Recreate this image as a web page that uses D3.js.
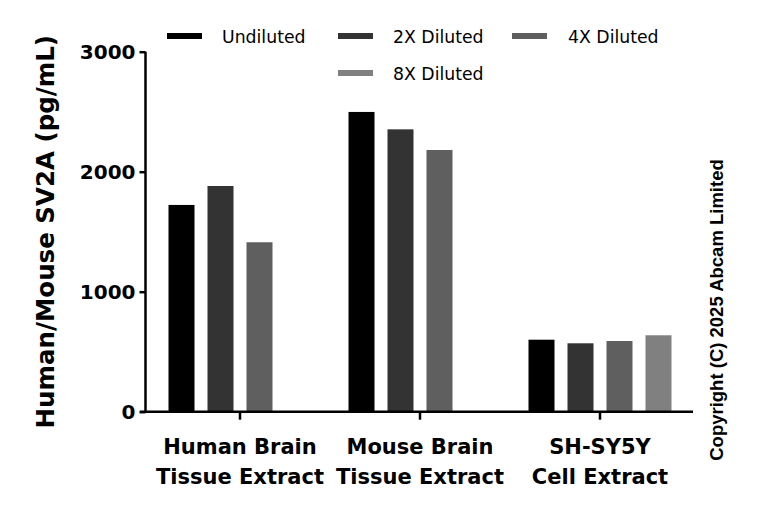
<!DOCTYPE html>
<html>
<head>
<meta charset="utf-8">
<script src="https://cdn.jsdelivr.net/npm/d3@7"></script>
<style>
  body { margin: 0; background: #fff; }
  svg text { font-family: "DejaVu Sans", sans-serif; }
</style>
</head>
<body>
<svg id="chart" width="768" height="508"></svg>
<script>
// Data
var groups = ["Human Brain|Tissue Extract", "Mouse Brain|Tissue Extract", "SH-SY5Y|Cell Extract"];
var series = ["Undiluted", "2X Diluted", "4X Diluted", "8X Diluted"];
var colors = ["#000000", "#333333", "#5f5f5f", "#808080"];
var undiluted = [1723, 2498, 600];
var diluted2x = [1881, 2353, 570];
var diluted4x = [1412, 2181, 589];
var diluted8x = [null, null, 637];
var yTicks = [0, 1000, 2000, 3000];

var values = [undiluted, diluted2x, diluted4x, diluted8x];

var svg = d3.select("#chart");

var x = d3.scaleBand().domain(groups).range([150, 690]);
var slot = d3.scaleBand().domain(series).range([-78, 78]);
var y = d3.scaleLinear().domain([0, 3000]).range([411.7, 51.7]);

var barW = 26;

// Bars
series.forEach(function(s, si) {
  svg.append("g")
    .selectAll("rect")
    .data(groups.map(function(g, gi) { return {g: g, v: values[si][gi]}; })
      .filter(function(d) { return d.v != null; }))
    .enter()
    .append("rect")
    .attr("x", function(d) { return x(d.g) + x.bandwidth() / 2 + slot(s) + (slot.bandwidth() - barW) / 2; })
    .attr("width", barW)
    .attr("y", function(d) { return y(d.v); })
    .attr("height", function(d) { return y(0) - y(d.v); })
    .attr("fill", colors[si]);
});

// Y axis
var yAxis = svg.append("g")
  .attr("transform", "translate(145.5,0)")
  .call(d3.axisLeft(y).tickValues(yTicks).tickSize(6).tickPadding(4).tickFormat(d3.format("d")));
yAxis.select(".domain").attr("stroke", "#000").attr("stroke-width", 2.5).attr("d", "M0," + y(3000) + "V" + y(0));
yAxis.selectAll(".tick line").attr("stroke", "#000").attr("stroke-width", 2.5);
yAxis.selectAll(".tick text")
  .attr("fill", "#000")
  .style("font-size", "20px")
  .style("font-weight", "bold")
  .attr("dy", "0.36em");

// X axis
var xAxis = svg.append("g")
  .attr("transform", "translate(0," + y(0) + ")")
  .call(d3.axisBottom(x).tickSize(8).tickFormat(""));
xAxis.select(".domain").attr("stroke", "#000").attr("stroke-width", 2.5).attr("d", "M140,0H693");
xAxis.selectAll(".tick line").attr("stroke", "#000").attr("stroke-width", 2.5);

groups.forEach(function(g) {
  var lines = g.split("|");
  var t = svg.append("text")
    .attr("x", x(g) + x.bandwidth() / 2)
    .attr("y", 454)
    .attr("text-anchor", "middle")
    .style("font-size", "21px")
    .style("font-weight", "bold");
  lines.forEach(function(l, i) {
    t.append("tspan")
      .attr("x", x(g) + x.bandwidth() / 2)
      .attr("dy", i == 0 ? 0 : 30)
      .text(l);
  });
});

// Y axis title
svg.append("text")
  .attr("transform", "translate(54," + ((y(0) + y(3000)) / 2) + ") rotate(-90)")
  .attr("text-anchor", "middle")
  .style("font-size", "24.5px")
  .style("font-weight", "bold")
  .text("Human/Mouse SV2A (pg/mL)");

// Legend
var legendPos = [
  {sx: 167, tx: 222, y: 36},
  {sx: 338, tx: 393, y: 36},
  {sx: 512, tx: 568, y: 36},
  {sx: 338, tx: 393, y: 73}
];
series.forEach(function(s, i) {
  var p = legendPos[i];
  svg.append("rect")
    .attr("x", p.sx).attr("y", p.y - 3)
    .attr("width", 35).attr("height", 6)
    .attr("fill", colors[i]);
  svg.append("text")
    .attr("x", p.tx).attr("y", p.y + 6.5)
    .style("font-size", "17.3px")
    .text(s);
});

// Copyright
svg.append("text")
  .attr("transform", "translate(723,310) rotate(-90)")
  .attr("text-anchor", "middle")
  .style("font-family", "'Liberation Sans', Arial, sans-serif")
  .style("font-size", "18.5px")
  .style("font-weight", "bold")
  .text("Copyright (C) 2025 Abcam Limited");
</script>
</body>
</html>
